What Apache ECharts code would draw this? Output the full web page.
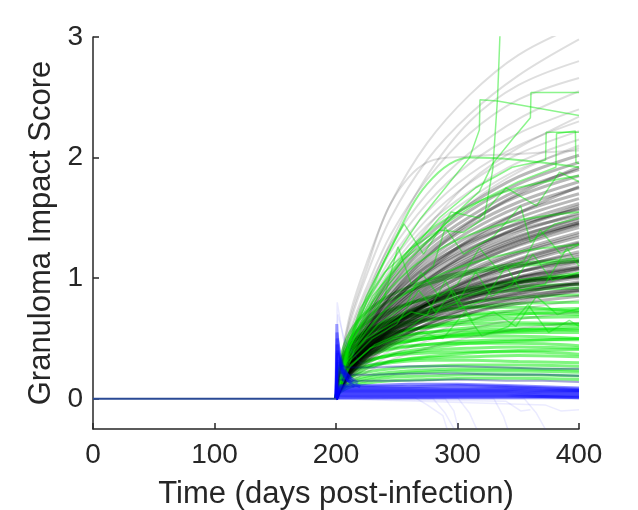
<!DOCTYPE html>
<html>
<head>
<meta charset="utf-8">
<script src="https://cdn.jsdelivr.net/npm/echarts@6/dist/echarts.min.js"></script>
<style>
  html, body { margin: 0; padding: 0; background: #fff; }
  #main { width: 638px; height: 510px; }
</style>
</head>
<body>
<div id="main"></div>
<script>
// sample days used by the smooth gray / green runs
var dayGrid = [200, 204, 212, 225, 245, 275, 310, 350, 400];
// sample days used by the blue runs
var dayBlue = [200, 203, 210, 230, 260, 300, 340, 370, 400];

var xTicks = [0, 100, 200, 300, 400];
var yTicks = [0, 1, 2, 3];

// pre-treatment baseline
var baseline = [[0, 0], [200, 0]];

// sparse gray runs at the edges of the gray fan, values at dayGrid
var grayOuter = [
  [0, 0.33, 0.68, 1.07, 1.62, 1.96, 2.01, 2.03, 2.06],
  [0, 0.30, 0.72, 1.12, 1.62, 2.12, 2.52, 2.85, 3.10],
  [0, 0.26, 0.64, 1.02, 1.50, 1.98, 2.36, 2.68, 2.98],
  [0, 0.20, 0.50, 0.84, 1.30, 1.85, 2.30, 2.60, 2.80],
  [0, 0.24, 0.58, 0.92, 1.36, 1.82, 2.20, 2.48, 2.66],
  [0, 0.22, 0.55, 0.88, 1.28, 1.70, 2.04, 2.32, 2.55],
  [0, 0.21, 0.52, 0.84, 1.22, 1.62, 1.95, 2.20, 2.40],
  [0, 0.20, 0.50, 0.80, 1.16, 1.55, 1.86, 2.10, 2.30],
  [0, 0.16, 0.40, 0.66, 1.02, 1.42, 1.80, 2.08, 2.34],
  [0, 0.19, 0.48, 0.77, 1.12, 1.49, 1.79, 2.03, 2.22],
  [0, 0.19, 0.46, 0.74, 1.08, 1.44, 1.72, 1.96, 2.15],
  [0, 0.18, 0.45, 0.72, 1.04, 1.39, 1.66, 1.90, 2.08],
  [0, 0.15, 0.36, 0.60, 0.92, 1.30, 1.62, 1.88, 2.10],
  [0, 0.07, 0.17, 0.28, 0.40, 0.53, 0.65, 0.74, 0.82],
  [0, 0.07, 0.16, 0.25, 0.36, 0.48, 0.58, 0.66, 0.72],
  [0, 0.06, 0.14, 0.22, 0.32, 0.42, 0.51, 0.58, 0.63]
];

// dense gray runs in the core of the fan, values at dayGrid
var grayCore = [
  [0, 0.18, 0.44, 0.70, 1.01, 1.35, 1.61, 1.84, 2.02],
  [0, 0.17, 0.42, 0.67, 0.98, 1.30, 1.56, 1.78, 1.96],
  [0, 0.17, 0.41, 0.65, 0.95, 1.26, 1.51, 1.73, 1.90],
  [0, 0.14, 0.34, 0.56, 0.86, 1.18, 1.46, 1.70, 1.92],
  [0, 0.16, 0.40, 0.63, 0.92, 1.22, 1.47, 1.68, 1.85],
  [0, 0.16, 0.39, 0.61, 0.89, 1.19, 1.43, 1.63, 1.80],
  [0, 0.15, 0.37, 0.59, 0.86, 1.15, 1.39, 1.59, 1.75],
  [0, 0.13, 0.32, 0.52, 0.78, 1.06, 1.32, 1.54, 1.76],
  [0, 0.15, 0.36, 0.57, 0.84, 1.12, 1.35, 1.54, 1.70],
  [0, 0.14, 0.35, 0.56, 0.81, 1.09, 1.31, 1.50, 1.66],
  [0, 0.14, 0.34, 0.54, 0.79, 1.06, 1.28, 1.46, 1.62],
  [0, 0.16, 0.38, 0.59, 0.84, 1.10, 1.30, 1.45, 1.57],
  [0, 0.12, 0.30, 0.48, 0.72, 0.98, 1.22, 1.42, 1.60],
  [0, 0.14, 0.33, 0.53, 0.77, 1.03, 1.24, 1.42, 1.58],
  [0, 0.15, 0.36, 0.56, 0.80, 1.05, 1.25, 1.40, 1.52],
  [0, 0.13, 0.32, 0.51, 0.75, 1.00, 1.21, 1.38, 1.54],
  [0, 0.13, 0.31, 0.50, 0.73, 0.97, 1.17, 1.34, 1.50],
  [0, 0.14, 0.33, 0.52, 0.75, 0.99, 1.19, 1.35, 1.48],
  [0, 0.12, 0.30, 0.48, 0.70, 0.94, 1.14, 1.31, 1.46],
  [0, 0.13, 0.31, 0.49, 0.71, 0.95, 1.15, 1.32, 1.46],
  [0, 0.11, 0.27, 0.44, 0.65, 0.89, 1.10, 1.28, 1.45],
  [0, 0.12, 0.29, 0.46, 0.68, 0.92, 1.13, 1.30, 1.44],
  [0, 0.12, 0.29, 0.47, 0.68, 0.91, 1.11, 1.27, 1.42],
  [0, 0.12, 0.28, 0.45, 0.66, 0.88, 1.07, 1.23, 1.38],
  [0, 0.10, 0.25, 0.41, 0.62, 0.85, 1.05, 1.21, 1.36],
  [0, 0.11, 0.27, 0.44, 0.64, 0.86, 1.04, 1.20, 1.34],
  [0, 0.11, 0.27, 0.42, 0.62, 0.83, 1.01, 1.16, 1.30],
  [0, 0.09, 0.23, 0.38, 0.58, 0.80, 0.99, 1.15, 1.29],
  [0, 0.10, 0.24, 0.39, 0.57, 0.78, 0.97, 1.13, 1.28],
  [0, 0.11, 0.26, 0.41, 0.60, 0.80, 0.98, 1.12, 1.26],
  [0, 0.10, 0.25, 0.40, 0.58, 0.78, 0.95, 1.09, 1.22],
  [0, 0.12, 0.28, 0.43, 0.62, 0.82, 0.98, 1.10, 1.20],
  [0, 0.10, 0.24, 0.38, 0.56, 0.75, 0.92, 1.05, 1.18],
  [0, 0.11, 0.26, 0.41, 0.59, 0.78, 0.93, 1.05, 1.15],
  [0, 0.10, 0.23, 0.37, 0.54, 0.72, 0.88, 1.01, 1.13],
  [0, 0.10, 0.24, 0.38, 0.55, 0.73, 0.88, 1.00, 1.10],
  [0, 0.13, 0.29, 0.44, 0.61, 0.78, 0.91, 1.01, 1.09],
  [0, 0.09, 0.22, 0.35, 0.51, 0.69, 0.84, 0.97, 1.08],
  [0, 0.09, 0.21, 0.34, 0.50, 0.68, 0.83, 0.96, 1.07],
  [0, 0.12, 0.27, 0.40, 0.56, 0.72, 0.85, 0.95, 1.03],
  [0, 0.09, 0.21, 0.34, 0.49, 0.66, 0.80, 0.92, 1.02],
  [0, 0.11, 0.25, 0.38, 0.53, 0.68, 0.80, 0.89, 0.97],
  [0, 0.08, 0.20, 0.32, 0.46, 0.62, 0.76, 0.87, 0.96],
  [0, 0.10, 0.23, 0.36, 0.51, 0.66, 0.78, 0.88, 0.95],
  [0, 0.09, 0.21, 0.33, 0.47, 0.62, 0.74, 0.84, 0.92],
  [0, 0.08, 0.19, 0.30, 0.44, 0.58, 0.71, 0.81, 0.90],
  [0, 0.12, 0.26, 0.38, 0.52, 0.65, 0.75, 0.83, 0.89],
  [0, 0.11, 0.24, 0.35, 0.48, 0.61, 0.71, 0.79, 0.85],
  [0, 0.13, 0.30, 0.45, 0.62, 0.80, 0.94, 1.05, 1.14],
  [0, 0.12, 0.28, 0.42, 0.59, 0.77, 0.90, 1.00, 1.08],
  [0, 0.14, 0.31, 0.46, 0.63, 0.79, 0.90, 0.97, 1.01],
  [0, 0.11, 0.26, 0.40, 0.57, 0.74, 0.87, 0.96, 1.02],
  [0, 0.13, 0.29, 0.43, 0.59, 0.74, 0.84, 0.91, 0.95],
  [0, 0.10, 0.24, 0.37, 0.53, 0.70, 0.83, 0.93, 1.00],
  [0, 0.12, 0.27, 0.40, 0.55, 0.70, 0.80, 0.86, 0.90]
];

// smooth green runs in the upper band, values at dayGrid
var greenHigh = [
  [0, 0.20, 0.48, 0.80, 1.25, 1.78, 2.00, 1.98, 1.92],
  [0, 0.18, 0.44, 0.72, 1.05, 1.38, 1.60, 1.75, 1.85],
  [0, 0.16, 0.40, 0.64, 0.92, 1.18, 1.36, 1.48, 1.55],
  [0, 0.15, 0.36, 0.56, 0.78, 0.98, 1.12, 1.22, 1.28]
];

// smooth green runs in the main band, values at dayGrid
var greenRuns = [
  [0, 0.34, 0.56, 0.72, 0.86, 0.98, 1.06, 1.12, 1.16],
  [0, 0.25, 0.48, 0.66, 0.82, 0.95, 1.04, 1.10, 1.14],
  [0, 0.14, 0.30, 0.46, 0.62, 0.78, 0.90, 0.98, 1.04],
  [0, 0.12, 0.26, 0.40, 0.56, 0.72, 0.86, 0.96, 1.02],
  [0, 0.22, 0.42, 0.58, 0.72, 0.84, 0.92, 0.98, 1.02],
  [0, 0.30, 0.50, 0.63, 0.74, 0.83, 0.89, 0.93, 0.95],
  [0, 0.18, 0.36, 0.52, 0.66, 0.78, 0.86, 0.90, 0.92],
  [0, 0.26, 0.44, 0.56, 0.66, 0.74, 0.80, 0.84, 0.86],
  [0, 0.28, 0.45, 0.56, 0.64, 0.71, 0.76, 0.79, 0.80],
  [0, 0.20, 0.38, 0.52, 0.64, 0.72, 0.76, 0.76, 0.72],
  [0, 0.24, 0.40, 0.50, 0.58, 0.65, 0.70, 0.73, 0.75],
  [0, 0.30, 0.45, 0.54, 0.61, 0.66, 0.69, 0.71, 0.70],
  [0, 0.16, 0.30, 0.42, 0.52, 0.60, 0.66, 0.70, 0.73],
  [0, 0.22, 0.36, 0.46, 0.54, 0.60, 0.64, 0.67, 0.68],
  [0, 0.27, 0.40, 0.48, 0.55, 0.59, 0.62, 0.63, 0.62],
  [0, 0.20, 0.33, 0.42, 0.49, 0.55, 0.59, 0.61, 0.62],
  [0, 0.24, 0.36, 0.43, 0.48, 0.52, 0.55, 0.57, 0.60],
  [0, 0.25, 0.37, 0.45, 0.51, 0.55, 0.57, 0.58, 0.57],
  [0, 0.14, 0.26, 0.36, 0.44, 0.50, 0.54, 0.56, 0.58],
  [0, 0.18, 0.30, 0.38, 0.45, 0.50, 0.53, 0.55, 0.55],
  [0, 0.23, 0.34, 0.41, 0.46, 0.50, 0.52, 0.52, 0.50],
  [0, 0.17, 0.28, 0.35, 0.41, 0.45, 0.48, 0.49, 0.49],
  [0, 0.12, 0.22, 0.30, 0.37, 0.42, 0.46, 0.48, 0.50],
  [0, 0.21, 0.31, 0.37, 0.42, 0.45, 0.46, 0.46, 0.44],
  [0, 0.15, 0.25, 0.31, 0.36, 0.40, 0.42, 0.43, 0.42],
  [0, 0.19, 0.27, 0.32, 0.36, 0.38, 0.39, 0.39, 0.37],
  [0, 0.10, 0.18, 0.25, 0.31, 0.35, 0.38, 0.40, 0.41],
  [0, 0.13, 0.21, 0.27, 0.31, 0.34, 0.35, 0.36, 0.35],
  [0, 0.16, 0.23, 0.27, 0.30, 0.32, 0.32, 0.31, 0.30],
  [0, 0.12, 0.18, 0.22, 0.25, 0.27, 0.28, 0.28, 0.27],
  [0, 0.09, 0.15, 0.19, 0.22, 0.24, 0.25, 0.25, 0.24],
  [0, 0.08, 0.13, 0.17, 0.20, 0.22, 0.23, 0.23, 0.22],
  [0, 0.07, 0.12, 0.15, 0.18, 0.19, 0.20, 0.20, 0.19],
  [0, 0.06, 0.10, 0.13, 0.15, 0.16, 0.17, 0.17, 0.16]
];

// jagged green runs, [day, score] pairs
var jaggedRuns = [
  [[200, 0], [208, 0.4], [220, 0.75], [240, 1.05], [262, 1.25], [285, 1.40], [305, 1.38], [322, 1.50], [329, 1.9], [333, 2.5], [336, 3.3]],
  [[200, 0], [210, 0.45], [225, 0.8], [250, 1.2], [270, 1.5], [290, 1.75], [310, 2.0], [318, 2.23], [318.5, 2.48], [333, 2.47], [400, 2.35]],
  [[200, 0], [212, 0.5], [230, 0.85], [255, 1.15], [280, 1.35], [300, 1.55], [318, 1.72], [329, 1.95], [345, 2.15], [360, 2.33], [360.5, 2.54], [400, 2.54]],
  [[200, 0], [210, 0.4], [230, 0.8], [255, 1.15], [285, 1.5], [315, 1.75], [345, 1.92], [372.5, 1.98], [373, 2.21], [400, 2.21]],
  [[200, 0], [212, 0.45], [235, 0.85], [260, 1.15], [290, 1.45], [320, 1.65], [350, 1.8], [381, 1.92], [381.5, 2.2], [397, 2.22], [397.5, 1.96], [400, 1.95]],
  [[200, 0], [210, 0.45], [225, 0.85], [240, 1.15], [256, 1.45], [272, 1.2], [295, 1.55], [318, 1.5], [340, 1.75], [365, 1.6], [384, 1.88], [400, 1.8]],
  [[200, 0], [210, 0.35], [225, 0.6], [240, 0.85], [251, 1.26], [262, 0.95], [280, 1.1], [290, 1.42], [305, 1.2], [330, 1.35], [352, 1.6], [360, 1.3], [380, 1.45], [400, 1.5]],
  [[200, 0], [215, 0.4], [235, 0.62], [258, 0.78], [270, 1.05], [285, 0.85], [300, 0.95], [318, 1.25], [335, 1.05], [355, 1.15], [368, 1.4], [385, 1.2], [400, 1.28]],
  [[200, 0], [210, 0.3], [230, 0.5], [250, 0.62], [268, 0.9], [282, 0.72], [300, 0.8], [315, 1.05], [328, 0.85], [345, 0.95], [362, 1.2], [378, 0.98], [400, 1.05]],
  [[200, 0], [212, 0.28], [232, 0.45], [255, 0.55], [275, 0.7], [290, 0.98], [302, 0.75], [322, 0.82], [340, 1.1], [352, 0.9], [372, 0.95], [390, 1.25], [400, 1.1]],
  [[200, 0], [208, 0.3], [225, 0.5], [245, 0.62], [262, 0.72], [280, 0.68], [296, 0.9], [312, 0.65], [330, 0.72], [348, 0.6], [365, 0.85], [382, 0.7], [400, 0.75]],
  [[200, 0], [210, 0.25], [228, 0.42], [248, 0.5], [270, 0.55], [288, 0.5], [306, 0.72], [320, 0.52], [342, 0.6], [358, 0.78], [375, 0.55], [392, 0.65], [400, 0.6]]
];

// blue runs hugging zero, values at dayBlue
var blueRuns = [
  [0, 0.11, 0.11, 0.11, 0.12, 0.12, 0.11, 0.10, 0.09],
  [0, 0.10, 0.10, 0.10, 0.10, 0.11, 0.10, 0.09, 0.08],
  [0, 0.09, 0.09, 0.09, 0.09, 0.09, 0.09, 0.08, 0.07],
  [0, 0.08, 0.08, 0.08, 0.08, 0.08, 0.08, 0.07, 0.07],
  [0, 0.07, 0.07, 0.07, 0.07, 0.07, 0.07, 0.06, 0.06],
  [0, 0.06, 0.06, 0.06, 0.06, 0.06, 0.06, 0.05, 0.05],
  [0, 0.05, 0.05, 0.05, 0.05, 0.05, 0.05, 0.04, 0.04],
  [0, 0.04, 0.04, 0.04, 0.04, 0.04, 0.04, 0.03, 0.03],
  [0, 0.03, 0.03, 0.03, 0.03, 0.03, 0.03, 0.02, 0.02],
  [0, 0.02, 0.02, 0.02, 0.02, 0.02, 0.02, 0.02, 0.01],
  [0, 0.01, 0.01, 0.01, 0.01, 0.01, 0.01, 0.01, 0.01]
];

// blue runs mixed into the green band, values at dayBlue
var blueMid = [
  [0, 0.22, 0.20, 0.20, 0.21, 0.21, 0.20, 0.20, 0.19],
  [0, 0.16, 0.15, 0.15, 0.15, 0.16, 0.15, 0.15, 0.14],
  [0, 0.28, 0.26, 0.26, 0.27, 0.27, 0.26, 0.25, 0.25]
];

// blue spike right after day 200, [day, score] pairs
var blueSpikes = [
  [[200, 0], [200.6, 0.62], [202, 0.35], [204, 0.2], [208, 0.12]],
  [[200, 0], [200.8, 0.55], [202.5, 0.4], [205, 0.25], [210, 0.14]],
  [[200, 0], [201, 0.5], [203, 0.38], [206, 0.26], [212, 0.15]],
  [[200, 0], [201, 0.45], [203, 0.32], [206, 0.2], [212, 0.12]],
  [[200, 0], [201.2, 0.4], [204, 0.3], [207, 0.24], [214, 0.14]],
  [[200, 0], [201.2, 0.38], [204, 0.28], [208, 0.18], [215, 0.1]],
  [[200, 0], [201.5, 0.32], [205, 0.24], [209, 0.2], [218, 0.13]],
  [[200, 0], [201.5, 0.3], [205, 0.22], [210, 0.15], [220, 0.1]]
];

// faint blue runs, [day, score] pairs
var faintRuns = [
  [[200, 0], [265, 0.01], [275, -0.05], [288, -0.14], [293, -0.3]],
  [[200, 0], [280, 0.0], [290, -0.12], [300, -0.3]],
  [[200, 0.02], [290, 0.0], [297, -0.1], [302, -0.3]],
  [[200, 0], [300, 0.01], [310, -0.12], [318, -0.3]],
  [[200, 0], [330, 0.0], [338, -0.15], [343, -0.3]],
  [[200, 0], [340, -0.02], [352, -0.1], [360, -0.09]],
  [[200, 0], [355, 0.0], [365, -0.12], [375, -0.3]],
  [[200, 0], [372, -0.05], [385, -0.1], [400, -0.09]],
  [[200, 0], [201, 0.8], [206, 0.5], [220, 0.3], [300, 0.22], [400, 0.2]],
  [[200, 0], [201.5, 0.7], [208, 0.45], [215, 0.35]]
];

var font = "'Liberation Sans', Arial, Helvetica, sans-serif";
var ink = '#262626';

function run(points, color, width, smooth) {
  return {
    type: 'line',
    data: points,
    symbol: 'none',
    silent: true,
    smooth: smooth,
    lineStyle: { color: color, width: width }
  };
}

function zipDays(days, vals) {
  return vals.map(function (v, i) { return [days[i], v]; });
}

var series = [];
greenRuns.forEach(function (r) {
  series.push(run(zipDays(dayGrid, r), 'rgba(0,235,0,0.5)', 3, 0.35));
});
grayOuter.forEach(function (r) {
  series.push(run(zipDays(dayGrid, r), 'rgba(0,0,0,0.13)', 2, 0.35));
});
grayCore.forEach(function (r) {
  series.push(run(zipDays(dayGrid, r), 'rgba(0,0,0,0.28)', 3, 0.35));
});
greenHigh.forEach(function (r) {
  series.push(run(zipDays(dayGrid, r), 'rgba(0,230,0,0.45)', 2, 0.35));
});
jaggedRuns.forEach(function (r) {
  series.push(run(r, 'rgba(0,230,0,0.45)', 1.5, false));
});
faintRuns.forEach(function (r) {
  series.push(run(r, 'rgba(60,60,255,0.1)', 1.5, false));
});
blueMid.forEach(function (r) {
  series.push(run(zipDays(dayBlue, r), 'rgba(0,0,140,0.35)', 2, false));
});
blueSpikes.forEach(function (r) {
  series.push(run(r, 'rgba(0,0,255,0.35)', 3, false));
});
blueRuns.forEach(function (r) {
  series.push(run(zipDays(dayBlue, r), 'rgba(0,0,255,0.45)', 3, false));
});
series.push(run(baseline, '#2a4a95', 2, false));

var chart = echarts.init(document.getElementById('main'));
chart.setOption({
  animation: false,
  backgroundColor: '#fff',
  textStyle: { fontFamily: font },
  grid: { left: 93, right: 59, top: 37, bottom: 81, outerBoundsMode: 'none' },
  xAxis: {
    type: 'value',
    min: 0,
    max: 400,
    interval: 100,
    name: 'Time (days post-infection)',
    nameLocation: 'middle',
    nameGap: 50,
    nameTextStyle: { fontSize: 31, color: ink, fontFamily: font },
    axisLine: { onZero: false, lineStyle: { color: ink, width: 1.5 } },
    axisTick: { inside: true, length: 6, lineStyle: { color: ink, width: 1.5 } },
    axisLabel: { fontSize: 28, color: ink, margin: 12, fontFamily: font,
      customValues: xTicks },
    splitLine: { show: false }
  },
  yAxis: {
    type: 'value',
    min: -0.25,
    max: 3,
    name: 'Granuloma Impact Score',
    nameLocation: 'middle',
    nameGap: 33,
    nameTextStyle: { fontSize: 31, color: ink, fontFamily: font },
    axisLine: { show: true, lineStyle: { color: ink, width: 1.5 } },
    axisTick: { show: true, inside: true, length: 6, customValues: yTicks,
      lineStyle: { color: ink, width: 1.5 } },
    axisLabel: { fontSize: 28, color: ink, margin: 10, fontFamily: font,
      customValues: yTicks },
    splitLine: { show: false }
  },
  series: series
});
</script>
</body>
</html>
